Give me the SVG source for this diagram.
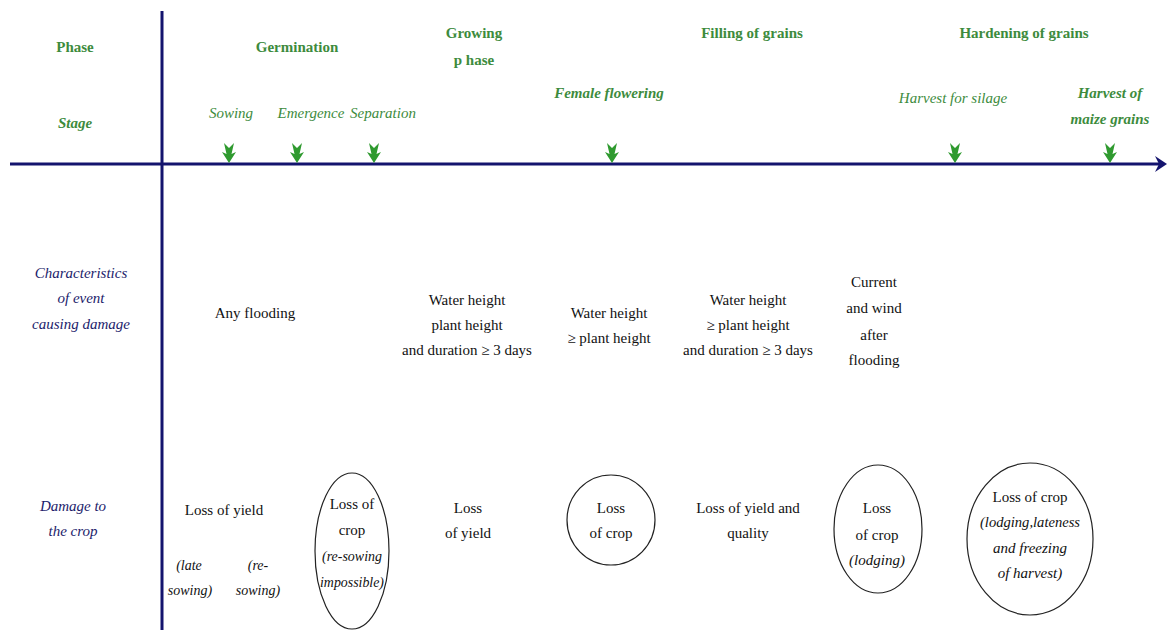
<svg xmlns="http://www.w3.org/2000/svg" width="1168" height="630" viewBox="0 0 1168 630">
  <style>
    text { font-size: 15px; text-anchor: middle; }
    .phase { font-weight: bold; fill: #3d8b3d; }
    .stage { font-style: italic; fill: #3d8b3d; }
    .stageb { font-style: italic; font-weight: bold; fill: #3d8b3d; }
    .row { font-style: italic; fill: #1c1c6b; }
    .body { fill: #111111; }
    .bodyi { font-style: italic; fill: #111111; }
    .small { font-size: 14px; }
    .axis { stroke: #14146e; stroke-width: 3; fill: none; }
    .ring { fill: none; stroke: #222222; stroke-width: 1.2; }
    .mark { fill: #2f9a2f; }
  </style>
  <defs>
    <path id="stageArrow" d="M0,0 L-7,-11 L-2.5,-9 L-5,-20 L0,-15 L5,-20 L2.5,-9 L7,-11 Z"/>
  </defs>
  <rect width="1168" height="630" fill="#ffffff"/>

  <!-- timeline axes and stage markers -->
  <g id="connectors">
    <line class="axis" x1="162" y1="11" x2="162" y2="630"/>
    <line class="axis" x1="10" y1="164" x2="1160" y2="164"/>
    <path d="M1155,156 L1167,164 L1155,172 L1159,164 Z" fill="#14146e"/>
    <use href="#stageArrow" class="mark" x="229" y="163"/>
    <use href="#stageArrow" class="mark" x="297" y="163"/>
    <use href="#stageArrow" class="mark" x="374" y="163"/>
    <use href="#stageArrow" class="mark" x="612" y="163"/>
    <use href="#stageArrow" class="mark" x="955" y="163"/>
    <use href="#stageArrow" class="mark" x="1110" y="163"/>
  </g>

  <g font-family="Liberation Serif, Times New Roman, serif">
  <!-- row headings -->
  <g id="head-phase"><text class="phase" x="75" y="52">Phase</text></g>
  <g id="head-stage"><text class="stageb" x="75" y="128">Stage</text></g>
  <g id="head-characteristics">
    <text class="row" x="81" y="278">Characteristics</text>
    <text class="row" x="81" y="303">of event</text>
    <text class="row" x="81" y="329">causing damage</text>
  </g>
  <g id="head-damage">
    <text class="row" x="73" y="511">Damage to</text>
    <text class="row" x="73" y="536">the crop</text>
  </g>

  <!-- phases -->
  <g id="phase-germination"><text class="phase" x="297" y="52">Germination</text></g>
  <g id="phase-growing">
    <text class="phase" x="474" y="38">Growing</text>
    <text class="phase" x="474" y="65">p hase</text>
  </g>
  <g id="phase-filling"><text class="phase" x="752" y="38">Filling of grains</text></g>
  <g id="phase-hardening"><text class="phase" x="1024" y="38">Hardening of grains</text></g>

  <!-- stages -->
  <g id="stage-sowing"><text class="stage" x="231" y="118">Sowing</text></g>
  <g id="stage-emergence"><text class="stage" x="311" y="118">Emergence</text></g>
  <g id="stage-separation"><text class="stage" x="383" y="118">Separation</text></g>
  <g id="stage-flowering"><text class="stageb" x="609" y="98">Female flowering</text></g>
  <g id="stage-silage"><text class="stage" x="953" y="103">Harvest for silage</text></g>
  <g id="stage-grains">
    <text class="stageb" x="1110" y="98">Harvest of</text>
    <text class="stageb" x="1110" y="124">maize grains</text>
  </g>

  <!-- characteristics of the flooding event -->
  <g id="event-any"><text class="body" x="255" y="318">Any flooding</text></g>
  <g id="event-growing">
    <text class="body" x="467" y="305">Water height</text>
    <text class="body" x="467" y="330">plant height</text>
    <text class="body" x="467" y="355">and duration ≥ 3 days</text>
  </g>
  <g id="event-flowering">
    <text class="body" x="609" y="318">Water height</text>
    <text class="body" x="609" y="343">≥ plant height</text>
  </g>
  <g id="event-filling">
    <text class="body" x="748" y="305">Water height</text>
    <text class="body" x="748" y="330">≥ plant height</text>
    <text class="body" x="748" y="355">and duration ≥ 3 days</text>
  </g>
  <g id="event-wind">
    <text class="body" x="874" y="287">Current</text>
    <text class="body" x="874" y="313">and wind</text>
    <text class="body" x="874" y="340">after</text>
    <text class="body" x="874" y="365">flooding</text>
  </g>

  <!-- damage to the crop -->
  <g id="damage-yield">
    <text class="body" x="224" y="515">Loss of yield</text>
    <text class="bodyi small" x="189" y="570">(late</text>
    <text class="bodyi small" x="190" y="595">sowing)</text>
    <text class="bodyi small" x="258" y="570">(re-</text>
    <text class="bodyi small" x="258" y="595">sowing)</text>
  </g>
  <g id="damage-resowing">
    <ellipse class="ring" cx="352" cy="551" rx="37" ry="78"/>
    <text class="body" x="352" y="509">Loss of</text>
    <text class="body" x="352" y="535">crop</text>
    <text class="bodyi" x="352" y="561" textLength="60" lengthAdjust="spacingAndGlyphs">(re-sowing</text>
    <text class="bodyi" x="352" y="587" textLength="64" lengthAdjust="spacingAndGlyphs">impossible)</text>
  </g>
  <g id="damage-growing">
    <text class="body" x="468" y="513">Loss</text>
    <text class="body" x="468" y="538">of yield</text>
  </g>
  <g id="damage-flowering">
    <ellipse class="ring" cx="611" cy="520" rx="44" ry="45"/>
    <text class="body" x="611" y="513">Loss</text>
    <text class="body" x="611" y="538">of crop</text>
  </g>
  <g id="damage-filling">
    <text class="body" x="748" y="513">Loss of yield and</text>
    <text class="body" x="748" y="538">quality</text>
  </g>
  <g id="damage-lodging">
    <ellipse class="ring" cx="878" cy="529" rx="44" ry="64"/>
    <text class="body" x="877" y="513">Loss</text>
    <text class="body" x="877" y="540">of crop</text>
    <text class="bodyi" x="877" y="565">(lodging)</text>
  </g>
  <g id="damage-harvest">
    <ellipse class="ring" cx="1030" cy="539" rx="63" ry="76"/>
    <text class="body" x="1030" y="502">Loss of crop</text>
    <text class="bodyi" x="1030" y="527" textLength="100" lengthAdjust="spacingAndGlyphs">(lodging,lateness</text>
    <text class="bodyi" x="1030" y="553">and freezing</text>
    <text class="bodyi" x="1030" y="578">of harvest)</text>
  </g>
  </g>
</svg>
